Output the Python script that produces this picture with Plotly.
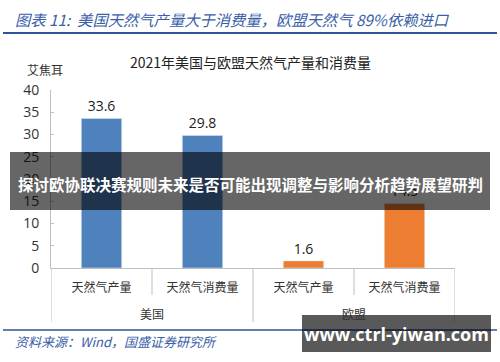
import plotly.graph_objects as go

groups = ["美国", "美国", "欧盟", "欧盟"]
subcats = ["天然气产量", "天然气消费量", "天然气产量", "天然气消费量"]
values = [33.6, 29.8, 1.6, 14.5]
colors = ["#4f81bd", "#4f81bd", "#ed7d31", "#ed7d31"]
yticks = [0, 5, 10, 15, 20, 25, 30, 35, 40]

header = "图表 11:  美国天然气产量大于消费量，欧盟天然气 89%依赖进口"
chart_title = "2021年美国与欧盟天然气产量和消费量"
unit = "艾焦耳"
source = "资料来源：Wind，国盛证券研究所"
banner = "探讨欧协联决赛规则未来是否可能出现调整与影响分析趋势展望研判"
watermark = "www.ctrl-yiwan.com"

CJK = "Noto Sans CJK SC"
BLUE = "#3a5ea8"
xs = list(range(len(values)))

L, T, W, H = 51, 90, 404, 178


def px(x):
    return (x - L) / W


def py(y):
    return (T + H - y) / H


fig = go.Figure()
fig.add_trace(go.Bar(
    x=xs, y=values, marker_color=colors, width=0.4,
    text=[f"{v:.1f}" for v in values], textposition="outside",
    textfont=dict(family="Open Sans, Noto Sans", size=14, color="#222"),
    cliponaxis=False, hoverinfo="skip",
))

fig.update_layout(
    width=500, height=362,
    margin=dict(l=L, r=500 - L - W, t=T, b=362 - T - H),
    paper_bgcolor="white", plot_bgcolor="white",
    showlegend=False,
    xaxis=dict(range=[-0.5, 3.5], tickvals=xs, ticktext=subcats,
               showline=True, linecolor="#bfbfbf", linewidth=1,
               ticks="", showgrid=False, zeroline=False, ticklabelstandoff=9,
               tickfont=dict(family=CJK, size=12, color="#333")),
    yaxis=dict(range=[0, 40], tickvals=yticks, showline=True,
               linecolor="#bfbfbf", linewidth=1, ticks="inside", ticklen=3,
               tickcolor="#bfbfbf", showgrid=False, zeroline=False,
               ticklabelstandoff=8,
               tickfont=dict(family="Open Sans, Noto Sans", size=14, color="#333")),
)

shapes = []
for xv, yb in [(0.5, 295), (2.5, 295), (1.5, 322), (-0.5, 322), (3.5, 322)]:
    shapes.append(dict(type="line", xref="x", yref="paper", x0=xv, x1=xv,
                       y0=0, y1=py(yb), line=dict(color="#bfbfbf", width=1)))
shapes.append(dict(type="line", xref="paper", yref="paper", x0=px(3), x1=px(497),
                   y0=py(33), y1=py(33), line=dict(color="#2f5597", width=2)))
shapes.append(dict(type="line", xref="paper", yref="paper", x0=px(3), x1=px(497),
                   y0=py(330), y1=py(330), line=dict(color="#2f5597", width=1.5)))
shapes.append(dict(type="rect", xref="paper", yref="paper",
                   x0=px(10), x1=px(490), y0=py(210), y1=py(152),
                   fillcolor="rgba(0,0,0,0.6)", line=dict(width=0), layer="above"))
shapes.append(dict(type="rect", xref="paper", yref="paper",
                   x0=px(302), x1=px(491), y0=py(352), y1=py(315),
                   fillcolor="rgba(0,0,0,0.65)", line=dict(width=0), layer="above"))
fig.update_layout(shapes=shapes)


def note(text, x, y, size, color, family=CJK, xanchor="center", xref="paper"):
    return dict(text=text, xref=xref, yref="paper", x=x, y=py(y),
                xanchor=xanchor, yanchor="middle", showarrow=False,
                font=dict(family=family, size=size, color=color))


ann = [
    note(groups[0], 0.5, 313, 12, "#333", xref="x"),
    note(groups[2], 2.5, 313, 12, "#333", xref="x"),
    note(chart_title, px(250), 62, 14, "#222"),
    note(unit, px(45), 70, 12, "#333"),
    note(f"<i>{header}</i>", px(13), 19, 15.3, BLUE, xanchor="left"),
    note(f"<i>{source}</i>", px(13), 341, 13, BLUE, xanchor="left"),
    note(f"<b>{banner}</b>", px(250), 184, 15.5, "white"),
    note(f"<b>{watermark}</b>", px(396), 334, 18, "white", family="Open Sans, Noto Sans"),
]
fig.update_layout(annotations=ann)

fig.write_html("out.html", config={"displayModeBar": False},
               post_script="document.body.style.margin='0';")
